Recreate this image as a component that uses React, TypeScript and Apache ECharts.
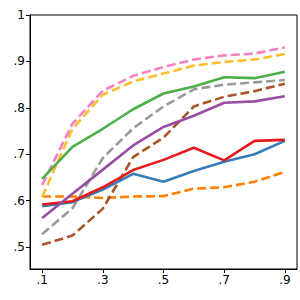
import React, { useEffect, useRef } from "react";
import * as echarts from "echarts";

const xValues = [0.1, 0.2, 0.3, 0.4, 0.5, 0.6, 0.7, 0.8, 0.9];
const xTickValues = [0.1, 0.3, 0.5, 0.7, 0.9];
const xTickLabels = [".1", ".3", ".5", ".7", ".9"];
const yTickValues = [0.5, 0.6, 0.7, 0.8, 0.9, 1.0];
const yTickLabels = [".5", ".6", ".7", ".8", ".9", "1"];

const pinkValues = [0.634, 0.766, 0.837, 0.869, 0.888, 0.904, 0.913, 0.917, 0.930];
const yellowValues = [0.608, 0.755, 0.828, 0.857, 0.874, 0.891, 0.899, 0.904, 0.916];
const grayValues = [0.528, 0.584, 0.692, 0.756, 0.803, 0.840, 0.850, 0.855, 0.860];
const brownValues = [0.505, 0.525, 0.583, 0.694, 0.736, 0.803, 0.824, 0.836, 0.852];
const orangeValues = [0.609, 0.609, 0.606, 0.609, 0.610, 0.626, 0.629, 0.641, 0.662];
const greenValues = [0.647, 0.716, 0.755, 0.797, 0.831, 0.846, 0.866, 0.864, 0.878];
const purpleValues = [0.563, 0.615, 0.667, 0.719, 0.759, 0.783, 0.811, 0.814, 0.825];
const blueValues = [0.588, 0.597, 0.624, 0.658, 0.641, 0.664, 0.684, 0.700, 0.729];
const redValues = [0.592, 0.599, 0.629, 0.666, 0.688, 0.714, 0.687, 0.729, 0.731];

const seriesDefs = [
  { name: "orange", data: orangeValues, color: "#ff7f00", dashed: true },
  { name: "yellow", data: yellowValues, color: "#fdbf2d", dashed: true },
  { name: "brown", data: brownValues, color: "#a65628", dashed: true },
  { name: "pink", data: pinkValues, color: "#f781bf", dashed: true },
  { name: "gray", data: grayValues, color: "#999999", dashed: true },
  { name: "blue", data: blueValues, color: "#377eb8", dashed: false },
  { name: "red", data: redValues, color: "#e41a1c", dashed: false },
  { name: "purple", data: purpleValues, color: "#984ea3", dashed: false },
  { name: "green", data: greenValues, color: "#4daf4a", dashed: false },
];

export default function App() {
  const ref = useRef<HTMLDivElement>(null);
  useEffect(() => {
    if (!ref.current) return;
    const chart = echarts.init(ref.current, null, { renderer: "svg" });
    const font = "DejaVu Sans";
    chart.setOption({
      animation: false,
      grid: {
        left: 30,
        top: 15,
        right: 3,
        bottom: 31,
        show: true,
        borderColor: "#000",
        borderWidth: 1,
        backgroundColor: "#fff",
      },
      xAxis: {
        type: "value",
        min: 0.06,
        max: 0.94,
        splitLine: { show: false },
        axisLine: { show: true, lineStyle: { color: "#000", width: 1 } },
        axisTick: {
          show: true,
          inside: false,
          length: 4,
          lineStyle: { color: "#000" },
          customValues: xTickValues,
        },
        axisLabel: {
          customValues: xTickValues,
          formatter: (v: number) => {
            const i = xTickValues.findIndex((t) => Math.abs(t - v) < 1e-6);
            return i >= 0 ? xTickLabels[i] : "";
          },
          color: "#000",
          fontFamily: font,
          fontSize: 12,
          margin: 5,
        },
      },
      yAxis: {
        type: "value",
        min: 0.453,
        max: 1.0,
        splitLine: { show: false },
        axisLine: { show: true, lineStyle: { color: "#000", width: 1 } },
        axisTick: {
          show: true,
          inside: false,
          length: 4,
          lineStyle: { color: "#000" },
          customValues: yTickValues,
        },
        axisLabel: {
          customValues: yTickValues,
          formatter: (v: number) => {
            const i = yTickValues.findIndex((t) => Math.abs(t - v) < 1e-6);
            return i >= 0 ? yTickLabels[i] : "";
          },
          color: "#000",
          fontFamily: font,
          fontSize: 12,
          margin: 5,
        },
      },
      series: seriesDefs.map((s) => ({
        name: s.name,
        type: "line",
        data: s.data.map((v, i) => [xValues[i], v]),
        showSymbol: false,
        symbol: "none",
        lineStyle: {
          color: s.color,
          width: 2.6,
          type: s.dashed ? [9, 4] : "solid",
          cap: "butt",
        },
        itemStyle: { color: s.color },
      })),
    });
    return () => chart.dispose();
  }, []);
  return <div ref={ref} style={{ width: 300, height: 300, position: "absolute", left: 0, top: 0 }} />;
}
